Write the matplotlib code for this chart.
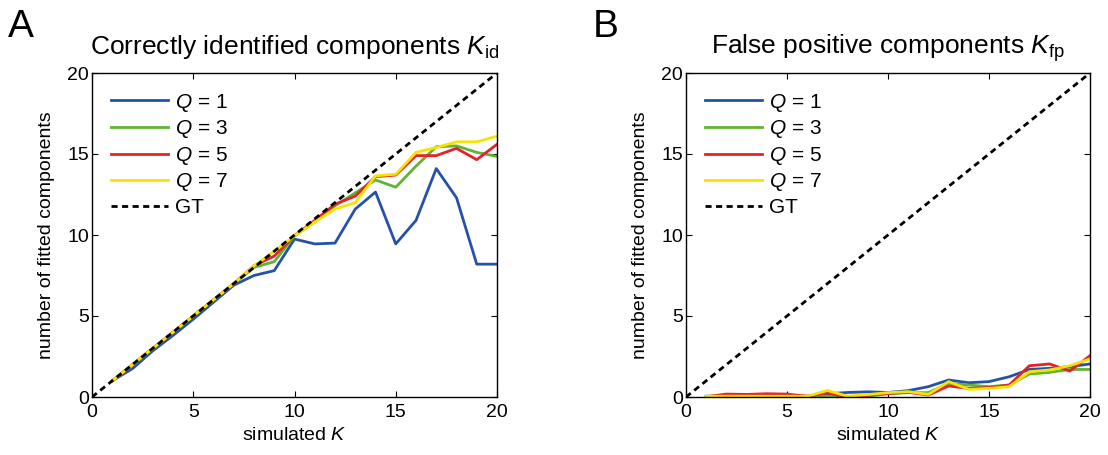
import matplotlib
matplotlib.use("Agg")
import matplotlib.pyplot as plt
import numpy as np

plt.rcParams['font.family'] = ['Liberation Sans', 'DejaVu Sans']
plt.rcParams['mathtext.fontset'] = 'custom'
plt.rcParams['mathtext.rm'] = 'Liberation Sans'
plt.rcParams['mathtext.it'] = 'Liberation Sans:italic'

k = list(range(1, 21))
gt = [0, 20]

# Panel A: correctly identified components
id_q1 = [1, 1.75, 2.85, 3.8, 4.8, 5.85, 6.9, 7.5, 7.8, 9.75, 9.45, 9.5, 11.6, 12.65, 9.45, 10.9, 14.1, 12.3, 8.2, 8.2]
id_q3 = [1, 2, 3, 4, 5, 6, 7, 8.0, 8.35, 9.95, 10.8, 11.8, 12.6, 13.4, 12.95, 14.25, 15.45, 15.5, 15.1, 14.85]
id_q5 = [1, 2, 3, 4, 5, 6, 7, 8.1, 8.7, 9.95, 10.9, 11.9, 12.4, 13.6, 13.7, 14.9, 14.9, 15.35, 14.65, 15.6]
id_q7 = [1, 2, 3, 4, 5, 6, 7, 8.1, 9.0, 9.95, 10.8, 11.6, 12.0, 13.65, 13.75, 15.1, 15.4, 15.75, 15.75, 16.1]

# Panel B: false positive components
fp_q1 = [0.05, 0.05, 0.05, 0.05, 0.05, 0.05, 0.2, 0.28, 0.32, 0.28, 0.39, 0.64, 1.05, 0.88, 0.95, 1.25, 1.7, 1.77, 1.87, 2.04]
fp_q3 = [0.0, 0.0, 0.0, 0.0, 0.0, 0.0, 0.05, 0.0, 0.05, 0.2, 0.27, 0.27, 0.84, 0.74, 0.64, 0.74, 1.42, 1.52, 1.7, 1.7]
fp_q5 = [0.02, 0.18, 0.16, 0.2, 0.18, 0.05, 0.25, 0.0, 0.1, 0.22, 0.29, 0.12, 0.68, 0.53, 0.58, 0.74, 1.93, 2.04, 1.6, 2.55]
fp_q7 = [0.05, 0.05, 0.05, 0.05, 0.05, 0.05, 0.4, 0.05, 0.15, 0.27, 0.33, 0.16, 0.95, 0.47, 0.53, 0.64, 1.56, 1.67, 1.93, 2.35]

labels = [r'$Q$ = 1', r'$Q$ = 3', r'$Q$ = 5', r'$Q$ = 7', 'GT']
colors = ['#2552a6', '#5fb432', '#e8202a', '#f5e400']
ticks = [0, 5, 10, 15, 20]

fig = plt.figure(figsize=(11.08, 4.55), dpi=100)
axA = fig.add_axes([92/1108, 58/455, 405/1108, 324/455])
axB = fig.add_axes([686/1108, 58/455, 404/1108, 324/455])

def draw(ax, series, title):
    for s, c, lab in zip(series, colors, labels[:4]):
        ax.plot(k, s, color=c, lw=2.0, label=lab)
    ax.plot(gt, gt, color='black', lw=2.0, ls=(0, (2.2, 1.6)), label='GT')
    ax.set_xlim(0, 20)
    ax.set_ylim(0, 20)
    ax.set_xticks(ticks)
    ax.set_yticks(ticks)
    ax.tick_params(direction='in', top=True, right=True, labelsize=14, length=4)
    ax.tick_params(axis='x', pad=5)
    ax.tick_params(axis='y', pad=2)
    ax.set_xlabel(r'simulated $K$', fontsize=14, labelpad=4)
    ax.set_ylabel('number of fitted components', fontsize=14, labelpad=9)
    ax.set_title(title, fontsize=19, pad=14)
    ax.legend(loc='upper left', frameon=False, fontsize=15, handlelength=2.75,
              labelspacing=0.22, handletextpad=0.35, borderaxespad=0.4,
              borderpad=0.5)
    for sp in ax.spines.values():
        sp.set_linewidth(1.0)

draw(axA, [id_q1, id_q3, id_q5, id_q7], r'Correctly identified components $K_{\mathrm{id}}$')
draw(axB, [fp_q1, fp_q3, fp_q5, fp_q7], r'False positive components $K_{\mathrm{fp}}$')

fig.text(8/1108, 1 - 27/455, 'A', fontsize=28, va='center', ha='left')
fig.text(593/1108, 1 - 27/455, 'B', fontsize=28, va='center', ha='left')

fig.savefig('out.png', dpi=100)
